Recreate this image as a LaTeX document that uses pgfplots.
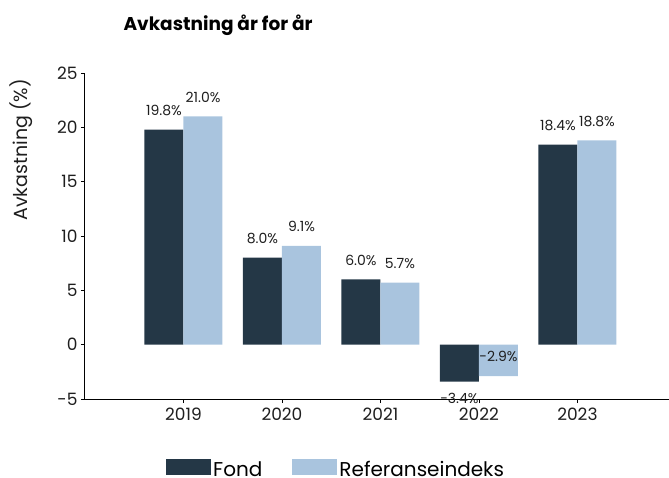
\documentclass[border=0pt]{standalone}
\usepackage{pgfplots}
\pgfplotsset{compat=1.18}
\usepackage{fontspec}
\setmainfont{Poppins}
\definecolor{fond}{HTML}{243746}
\definecolor{refc}{HTML}{A9C4DE}
\definecolor{txt}{HTML}{1E1E1E}
\begin{document}
\begin{tikzpicture}[x=1pt,y=1pt]
\useasboundingbox (-85,-78) rectangle (584,399);
\begin{axis}[
  at={(0,0)}, anchor=south west, scale only axis,
  width=584pt, height=326pt,
  ybar=0pt, bar width=39pt,
  xmin=-1, xmax=4.93, ymin=-5, ymax=25,
  axis lines*=left,
  axis line style={black, line width=1pt},
  xtick={0,1,2,3,4},
  xticklabels={2019,2020,2021,2022,2023},
  ytick={-5,0,5,10,15,20,25},
  tick align=outside, major tick length=4pt,
  tick style={black, line width=0.8pt},
  /pgf/number format/assume math mode=true,
  ticklabel style={font=\fontsize{17}{17}\selectfont, text=txt},
  xticklabel style={yshift=-1pt},
  ylabel={\fontsize{19}{19}\selectfont Avkastning (\%)},
  ylabel style={at={(axis description cs:-0.11,0.764)}, anchor=center, text=txt},
  title={\fontsize{18.5}{18.5}\selectfont\textbf{Avkastning år for år}},
  title style={at={(axis description cs:0.06,1.113)}, anchor=base west, text=black},
  clip mode=global,
  legend style={at={(axis description cs:0.43,-0.216)}, anchor=center, draw=none, fill=none,
    legend columns=2, font=\fontsize{20}{20}\selectfont,
    /tikz/every even column/.append style={column sep=28pt}},
  legend image code/.code={\fill[#1] (0pt,-6pt) rectangle (45pt,10pt);},
  nodes near coords,
  point meta=explicit symbolic,
  visualization depends on=rawy \as \rawy,
]
\addplot[fill=fond, draw=none,
  every node near coord/.append style={anchor=base, font=\fontsize{14}{14}\selectfont, text=txt, yshift={\rawy<0 ? -21.6 : 14}}]
  coordinates {(0,19.8) [19.8\%] (1,8.0) [8.0\%] (2,6.0) [6.0\%] (3,-3.4) [-3.4\%] (4,18.4) [18.4\%]};
\addplot[fill=refc, draw=none,
  every node near coord/.append style={anchor=base, font=\fontsize{14}{14}\selectfont, text=txt, yshift={\rawy<0 ? 15 : 14}}]
  coordinates {(0,21.0) [21.0\%] (1,9.1) [9.1\%] (2,5.7) [5.7\%] (3,-2.9) [-2.9\%] (4,18.8) [18.8\%]};
\legend{Fond, Referanseindeks}
\end{axis}
\end{tikzpicture}
\end{document}
